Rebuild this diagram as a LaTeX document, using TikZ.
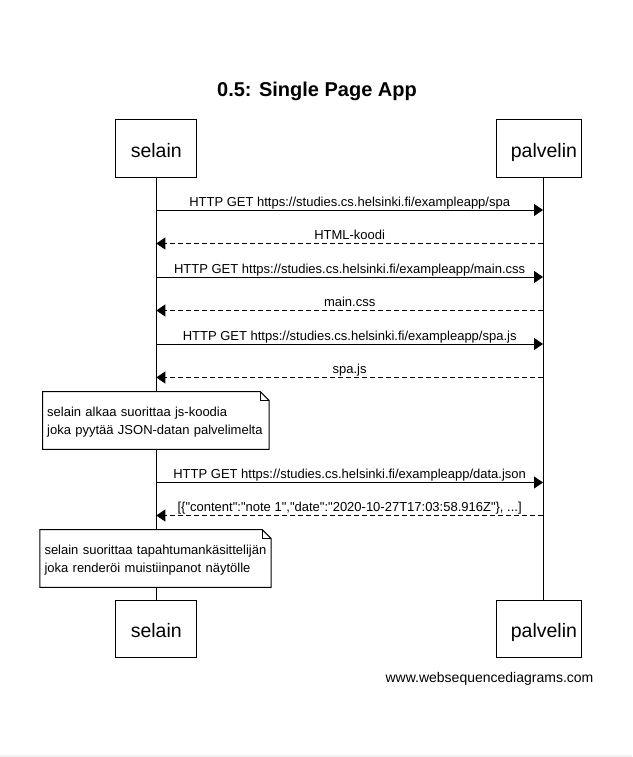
\documentclass[tikz,border=0pt]{standalone}
\usepackage{fontspec}
\setmainfont{Liberation Sans}[Ligatures=TeXOff]
\usetikzlibrary{arrows.meta,positioning}

\tikzset{
  actor/.style={draw, line width=1pt, minimum width=80.7pt, minimum height=57pt, inner sep=0pt,
    font=\fontsize{19.5}{22}\selectfont, text height=18pt, text depth=0pt},
  lifeline/.style={line width=1pt},
  msg/.style={line width=1pt, -{Triangle[length=9pt,width=12pt]}},
  reply/.style={msg, dash pattern=on 5pt off 3pt},
  msglabel/.style={anchor=base, inner sep=0pt, font=\fontsize{13}{15}\selectfont},
  notebox/.style={fill=white, inner xsep=4.5pt, inner ysep=0pt, align=left, minimum height=57.3pt,
    font=\fontsize{13}{18.5}\selectfont},
  noteline/.style={line width=1pt, line join=miter},
}

\begin{document}
\begin{tikzpicture}[x=1pt, y=-1pt]
    \useasboundingbox (0,0) rectangle (632,757);
    \fill[gray!10] (0,755) rectangle (632,757);

    \node[anchor=base, font=\fontsize{20}{24}\selectfont\bfseries] (title) at (317,96.5) {0.5: Single Page App};

    % Participants
    \node[actor] (selainTop) at (156.3,148.5) {selain};
    \node[actor, minimum width=85pt, text width=77pt, align=right] (palvelinTop) at (538.5,148.5) {palvelin};
    \node[actor] (selainBot) at (156.3,628.5) {selain};
    \node[actor, minimum width=85pt, text width=77pt, align=right] (palvelinBot) at (538.5,628.5) {palvelin};

    \coordinate (sL) at (selainTop.south);
    \coordinate (pL) at ([xshift=4.5pt]palvelinTop.south);
    \draw[lifeline] (selainTop) -- (selainBot);
    \draw[lifeline] (pL) -- ([xshift=4.5pt]palvelinBot.north);

    % Messages
    \foreach \n/\y in {1/210, 2/243.5, 3/277, 4/310.5, 5/344, 6/377.5, 7/482.5, 8/515.5}
        \coordinate (m\n) at (0,\y);

    \draw[msg] (sL |- m1) -- (pL |- m1) node[msglabel, midway, yshift=4pt] {HTTP GET https://studies.cs.helsinki.fi/exampleapp/spa};
    \draw[reply] (pL |- m2) -- (sL |- m2) node[msglabel, midway, yshift=4pt] {HTML-koodi};
    \draw[msg] (sL |- m3) -- (pL |- m3) node[msglabel, midway, yshift=4pt] {HTTP GET https://studies.cs.helsinki.fi/exampleapp/main.css};
    \draw[reply] (pL |- m4) -- (sL |- m4) node[msglabel, midway, yshift=4pt] {main.css};
    \draw[msg] (sL |- m5) -- (pL |- m5) node[msglabel, midway, yshift=4pt] {HTTP GET https://studies.cs.helsinki.fi/exampleapp/spa.js};
    \draw[reply] (pL |- m6) -- (sL |- m6) node[msglabel, midway, yshift=4pt] {spa.js};
    \draw[msg] (sL |- m7) -- (pL |- m7) node[msglabel, midway, yshift=4pt] {HTTP GET https://studies.cs.helsinki.fi/exampleapp/data.json};
    \draw[reply] (pL |- m8) -- (sL |- m8) node[msglabel, midway, yshift=4pt] {[\{"content":"note 1","date":"2020-10-27T17:03:58.916Z"\}, ...]};

    % Notes
    \node[notebox, text width=217.3pt] (note1) at (155.85,420.4) {\rule{0pt}{13pt}selain alkaa suorittaa js-koodia\\joka pyytää JSON-datan palvelimelta};
    \node[notebox, text width=222pt] (note2) at (155.5,558.5) {\rule{0pt}{13pt}selain suorittaa tapahtumankäsittelijän\\joka renderöi muistiinpanot näytölle};
    \foreach \nt in {note1, note2} {
        \draw[noteline] (\nt.north west) -- ([xshift=-9pt]\nt.north east) -- ([yshift=-9pt]\nt.north east)
            -- (\nt.south east) -- (\nt.south west) -- cycle;
        \draw[line width=0.8pt] ([xshift=-9pt]\nt.north east) |- ([yshift=-9pt]\nt.north east);
    }

    \node[anchor=base, font=\fontsize{14}{16}\selectfont] (credit) at (489.5,682) {www.websequencediagrams.com};
\end{tikzpicture}
\end{document}
